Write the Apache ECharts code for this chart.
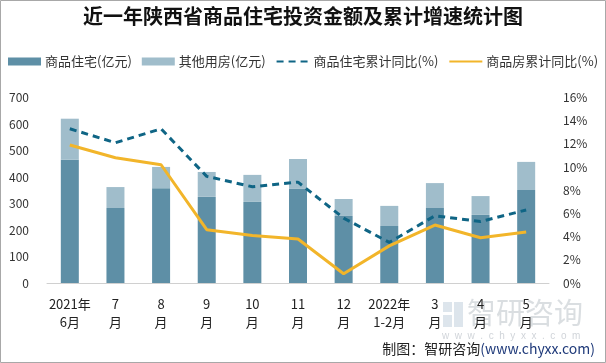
<!DOCTYPE html>
<html><head><meta charset="utf-8">
<script src="https://cdn.jsdelivr.net/npm/echarts@6/dist/echarts.min.js"></script>
<style>html,body{margin:0;padding:0;background:#fff}#c{width:606px;height:363px}</style>
</head><body><div id="c"></div>
<script>
const categories = ['2021年\n6月','7\n月','8\n月','9\n月','10\n月','11\n月','12\n月','2022年\n1-2月','3\n月','4\n月','5\n月'];
const residential = [465, 283, 358, 325, 306, 355, 253, 215, 283, 257, 351];
const otherHousing = [155, 79, 80, 94, 102, 113, 64, 76, 94, 71, 106];
const residentialGrowth = [13.3, 12.1, 13.3, 9.2, 8.3, 8.7, 5.6, 3.5, 5.8, 5.3, 6.3];
const housingGrowth = [11.9, 10.8, 10.2, 4.6, 4.1, 3.8, 0.8, 3.2, 5.0, 3.9, 4.4];
const leftTicks = [0, 700, 100];
const rightTicks = [0, 16, 2];

const chart = echarts.init(document.getElementById('c'));
const font = '"Noto Sans CJK SC", sans-serif';
chart.setOption({
  animation: false,
  title: {
    text: '近一年陕西省商品住宅投资金额及累计增速统计图',
    left: 'center', top: 6, padding: 0,
    textStyle: {fontFamily: font, fontSize: 20, fontWeight: 'bold', color: '#111'}
  },
  legend: {
    left: 8, top: 55, padding: 0, width: 640, itemWidth: 33, itemHeight: 8, itemGap: 10,
    textStyle: {fontFamily: font, fontSize: 13, color: '#333', padding: [0, 0, 0, -1]},
    data: [
      {name: '商品住宅(亿元)', icon: 'rect'},
      {name: '其他用房(亿元)', icon: 'rect'},
      {name: '商品住宅累计同比(%)', itemStyle: {opacity: 0}},
      {name: '商品房累计同比(%)', itemStyle: {opacity: 0}}
    ]
  },
  grid: {left: 47, right: 57, top: 97.5, bottom: 80},
  xAxis: {
    type: 'category', data: categories,
    axisLine: {lineStyle: {color: '#d0d0d0'}},
    axisTick: {show: false},
    axisLabel: {fontFamily: font, fontSize: 13, color: '#222', lineHeight: 18, margin: 12, interval: 0}
  },
  yAxis: [
    {type: 'value', min: leftTicks[0], max: leftTicks[1], interval: leftTicks[2],
     splitLine: {show: false}, axisLine: {show: false}, axisTick: {show: false},
     axisLabel: {fontFamily: font, fontSize: 12, color: '#333', margin: 18}},
    {type: 'value', min: rightTicks[0], max: rightTicks[1], interval: rightTicks[2],
     splitLine: {show: false}, axisLine: {show: false}, axisTick: {show: false},
     axisLabel: {fontFamily: font, fontSize: 12, color: '#333', margin: 14, formatter: '{value}%'}}
  ],
  series: [
    {name: '商品住宅(亿元)', type: 'bar', stack: 'a', data: residential, barWidth: 18,
     itemStyle: {color: '#5e8fa6'}},
    {name: '其他用房(亿元)', type: 'bar', stack: 'a', data: otherHousing, barWidth: 18,
     itemStyle: {color: '#a0bdcb'}},
    {name: '商品住宅累计同比(%)', type: 'line', yAxisIndex: 1, data: residentialGrowth,
     symbol: 'none', itemStyle: {color: '#0f6585'},
     lineStyle: {color: '#0f6585', width: 3, type: [7, 5]}},
    {name: '商品房累计同比(%)', type: 'line', yAxisIndex: 1, data: housingGrowth,
     symbol: 'none', itemStyle: {color: '#f2b52a'},
     lineStyle: {color: '#f2b52a', width: 3}}
  ],
  graphic: [
    {type: 'rect', shape: {x: 0.5, y: 0.5, width: 605, height: 362},
     style: {fill: 'none', stroke: '#a8a8a8', lineWidth: 1}, z: 100},
    {type: 'rect', shape: {x: 443, y: 302, width: 9, height: 10}, z: 0,
     style: {fill: 'rgba(120,150,180,0.25)'}},
    {type: 'rect', shape: {x: 454, y: 302, width: 9, height: 25}, z: 0,
     style: {fill: 'rgba(120,150,180,0.25)'}},
    {type: 'rect', shape: {x: 443, y: 315, width: 9, height: 12}, z: 0,
     style: {fill: 'rgba(120,150,180,0.25)'}},
    {type: 'text', left: 467, top: 298, z: 0,
     style: {text: '智研咨询', font: '29px "Noto Sans CJK SC", sans-serif', fill: 'rgba(150,160,170,0.35)'}},
    {type: 'text', left: 442, top: 331, z: 0,
     style: {text: 'w  w  w  .  c  h  y  x  x  .  c  o  m', font: '10px sans-serif', fill: 'rgba(150,160,170,0.45)'}},
    {type: 'text', right: 11, top: 342, z: 10,
     style: {rich: {a: {fontFamily: font, fontSize: 14, fill: '#222'}, b: {fontFamily: font, fontSize: 14, fill: '#1f3a7a'}},
       text: '{a|制图：智研咨询}{b|(www.chyxx.com)}'}}
  ]
});
</script></body></html>
